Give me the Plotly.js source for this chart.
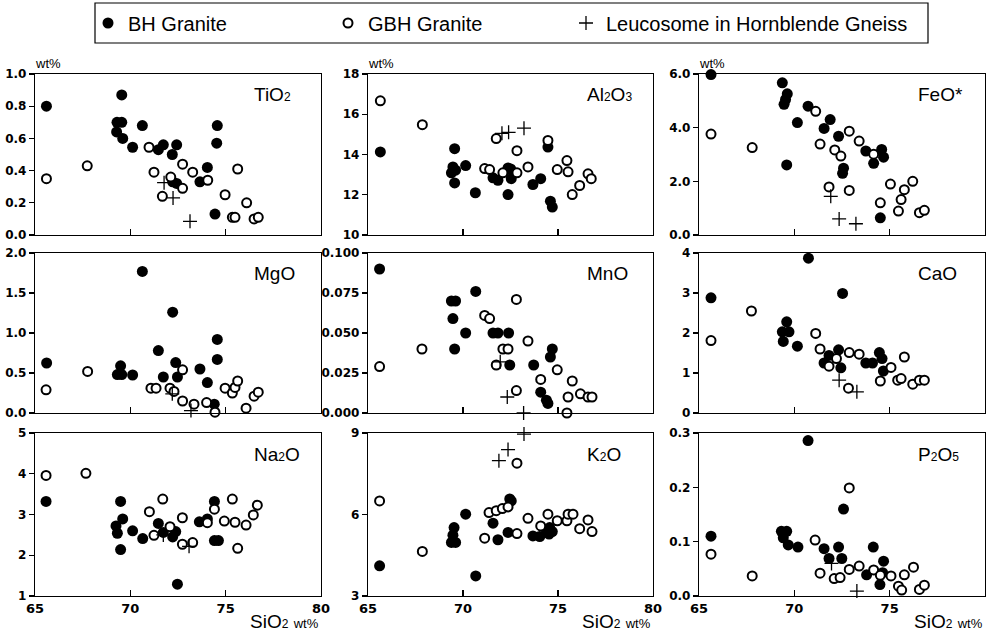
<!DOCTYPE html>
<html><head><meta charset="utf-8">
<script src="https://cdn.plot.ly/plotly-3.0.1.min.js"></script>
<style>html,body{margin:0;padding:0;background:#fff;}#chart{width:994px;height:637px;}</style>
</head><body><div id="chart"></div>
<script>
// ---- Data (SiO2 wt% on x, oxide wt% on y) ----
const seriesNames = ['BH Granite', 'GBH Granite', 'Leucosome in Hornblende Gneiss'];
const panelLabels = [['Ti', 'O', '2'], ['Al', '2', 'O', '3'], ['FeO*'], ['MgO'], ['MnO'], ['CaO'], ['Na', '2', 'O'], ['K', '2', 'O'], ['P', '2', 'O', '5']];
const xTickVals = [65, 70, 75, 80];
const xTickText = ['65', '70', '75', '80'];

const tio2_yticks = [0, 0.2, 0.4, 0.6, 0.8, 1.0];
const tio2_ytext = ['0.0', '0.2', '0.4', '0.6', '0.8', '1.0'];
const al2o3_yticks = [10, 12, 14, 16, 18];
const al2o3_ytext = ['10', '12', '14', '16', '18'];
const feo_yticks = [0, 2, 4, 6];
const feo_ytext = ['0.0', '2.0', '4.0', '6.0'];
const mgo_yticks = [0, 0.5, 1.0, 1.5, 2.0];
const mgo_ytext = ['0.0', '0.5', '1.0', '1.5', '2.0'];
const mno_yticks = [0, 0.025, 0.05, 0.075, 0.1];
const mno_ytext = ['0.000', '0.025', '0.050', '0.075', '0.100'];
const cao_yticks = [0, 1, 2, 3, 4];
const cao_ytext = ['0', '1', '2', '3', '4'];
const na2o_yticks = [1, 2, 3, 4, 5];
const na2o_ytext = ['1', '2', '3', '4', '5'];
const k2o_yticks = [3, 6, 9];
const k2o_ytext = ['3', '6', '9'];
const p2o5_yticks = [0, 0.1, 0.2, 0.3];
const p2o5_ytext = ['0.0', '0.1', '0.2', '0.3'];

const tio2_bh_x = [65.6, 69.55, 69.3, 69.55, 69.28, 69.6, 70.63, 70.12, 71.47, 71.73, 72.2, 72.43, 72.22, 72.43, 73.65, 74.04, 74.56, 74.53, 74.44];
const tio2_bh_y = [0.80, 0.87, 0.70, 0.70, 0.64, 0.60, 0.68, 0.545, 0.53, 0.56, 0.50, 0.56, 0.33, 0.32, 0.33, 0.42, 0.68, 0.57, 0.13];
const tio2_gbh_x = [65.6, 67.74, 70.98, 71.24, 71.68, 72.12, 72.74, 72.74, 73.27, 74.06, 74.97, 75.63, 75.35, 75.49, 76.1, 76.49, 76.71];
const tio2_gbh_y = [0.35, 0.43, 0.545, 0.39, 0.24, 0.36, 0.29, 0.44, 0.39, 0.34, 0.25, 0.41, 0.11, 0.11, 0.20, 0.10, 0.11];
const tio2_leu_x = [71.77, 72.24, 73.13];
const tio2_leu_y = [0.325, 0.23, 0.085];

const al2o3_bh_x = [65.65, 69.56, 69.47, 69.61, 69.39, 69.56, 70.14, 70.65, 71.58, 71.84, 72.37, 72.51, 72.54, 72.37, 73.68, 74.09, 74.47, 74.6, 74.7];
const al2o3_bh_y = [14.13, 14.29, 13.38, 13.22, 13.09, 12.59, 13.45, 12.1, 12.84, 12.72, 13.33, 13.28, 12.8, 12.01, 12.51, 12.8, 14.37, 11.68, 11.39];
const al2o3_gbh_x = [65.65, 67.86, 71.14, 71.4, 71.75, 72.1, 72.84, 72.84, 73.42, 74.47, 74.96, 75.47, 75.53, 75.75, 76.14, 76.58, 76.75];
const al2o3_gbh_y = [16.67, 15.48, 13.3, 13.25, 14.79, 13.09, 14.19, 13.09, 13.38, 14.7, 13.25, 13.7, 13.14, 12.01, 12.46, 13.04, 12.8];
const al2o3_leu_x = [72.05, 72.4, 73.21];
const al2o3_leu_y = [15.05, 15.1, 15.31];

const feo_bh_x = [65.63, 69.37, 69.63, 69.54, 69.46, 69.6, 70.16, 70.72, 71.88, 71.56, 72.32, 72.58, 72.53, 73.75, 74.16, 74.58, 74.68, 74.51];
const feo_bh_y = [5.98, 5.67, 5.26, 5.05, 4.87, 2.61, 4.19, 4.8, 4.3, 3.97, 3.68, 2.49, 2.3, 3.13, 2.67, 3.19, 2.9, 0.64];
const feo_gbh_x = [65.63, 67.79, 71.12, 71.35, 72.12, 72.44, 72.88, 73.4, 74.16, 71.82, 72.88, 74.51, 75.04, 75.46, 75.6, 75.77, 76.21, 76.56, 76.82];
const feo_gbh_y = [3.76, 3.26, 4.61, 3.39, 3.17, 2.94, 3.87, 3.5, 3.01, 1.79, 1.66, 1.2, 1.9, 0.89, 1.32, 1.69, 2.0, 0.83, 0.92];
const feo_leu_x = [71.91, 72.35, 73.23];
const feo_leu_y = [1.44, 0.6, 0.42];

const mgo_bh_x = [65.61, 70.63, 72.22, 69.49, 69.32, 69.55, 70.12, 71.47, 71.73, 72.38, 72.47, 73.65, 74.04, 74.56, 74.56, 74.4];
const mgo_bh_y = [0.625, 1.77, 1.26, 0.59, 0.48, 0.48, 0.475, 0.78, 0.45, 0.63, 0.45, 0.55, 0.38, 0.92, 0.67, 0.11];
const mgo_gbh_x = [65.58, 67.76, 71.08, 71.35, 72.08, 72.29, 72.74, 72.74, 73.34, 74.0, 74.44, 74.97, 75.35, 75.49, 75.63, 76.07, 76.49, 76.71];
const mgo_gbh_y = [0.29, 0.52, 0.31, 0.31, 0.31, 0.27, 0.54, 0.15, 0.11, 0.13, 0.01, 0.31, 0.25, 0.32, 0.40, 0.06, 0.21, 0.26];
const mgo_leu_x = [72.2, 73.18];
const mgo_leu_y = [0.24, 0.03];

const mno_bh_x = [65.61, 69.39, 69.61, 69.47, 69.56, 70.14, 70.67, 71.58, 71.84, 72.4, 72.46, 73.72, 74.09, 74.39, 74.47, 74.7, 74.6];
const mno_bh_y = [0.090, 0.070, 0.070, 0.059, 0.040, 0.050, 0.076, 0.050, 0.050, 0.050, 0.030, 0.030, 0.013, 0.008, 0.006, 0.040, 0.035];
const mno_gbh_x = [65.61, 67.84, 71.14, 71.4, 71.75, 72.1, 72.37, 72.81, 72.81, 73.42, 74.09, 74.96, 75.53, 75.75, 76.18, 76.58, 76.79, 75.47];
const mno_gbh_y = [0.029, 0.040, 0.061, 0.059, 0.030, 0.040, 0.040, 0.071, 0.014, 0.045, 0.021, 0.027, 0.010, 0.020, 0.012, 0.010, 0.010, 0.000];
const mno_leu_x = [71.96, 72.33, 73.19];
const mno_leu_y = [0.032, 0.010, 0.000];

const cao_bh_x = [65.63, 70.74, 72.53, 69.6, 69.37, 69.72, 69.42, 70.16, 71.56, 71.82, 72.32, 72.44, 73.75, 74.1, 74.46, 74.6, 74.67];
const cao_bh_y = [2.88, 3.87, 2.99, 2.28, 2.03, 2.03, 1.79, 1.67, 1.25, 1.44, 1.58, 1.13, 1.25, 1.25, 1.51, 1.36, 1.05];
const cao_gbh_x = [65.63, 67.75, 71.12, 71.35, 71.82, 72.21, 72.88, 73.4, 74.51, 75.07, 75.42, 75.6, 75.77, 76.21, 76.56, 76.82, 72.84];
const cao_gbh_y = [1.81, 2.55, 1.99, 1.6, 1.17, 1.36, 1.51, 1.47, 0.8, 1.14, 0.82, 0.86, 1.4, 0.72, 0.82, 0.82, 0.62];
const cao_leu_x = [72.35, 73.28];
const cao_leu_y = [0.82, 0.53];

const na2o_bh_x = [65.58, 69.49, 69.6, 69.25, 69.32, 69.49, 70.12, 70.65, 71.47, 71.73, 72.22, 72.38, 72.47, 73.62, 74.04, 74.41, 74.41, 74.62];
const na2o_bh_y = [3.32, 3.32, 2.89, 2.72, 2.54, 2.14, 2.6, 2.41, 2.78, 2.56, 2.45, 2.58, 1.29, 2.82, 2.89, 3.32, 2.36, 2.36];
const na2o_gbh_x = [65.58, 67.67, 71.0, 71.24, 71.7, 72.08, 72.73, 72.73, 73.27, 74.04, 74.41, 74.93, 75.35, 75.49, 75.63, 76.07, 76.45, 76.66];
const na2o_gbh_y = [3.96, 4.01, 3.07, 2.49, 3.38, 2.7, 2.92, 2.27, 2.31, 2.8, 3.13, 2.84, 3.38, 2.81, 2.17, 2.74, 2.99, 3.23];
const na2o_leu_x = [71.73, 73.08];
const na2o_leu_y = [2.5, 2.22];

const k2o_bh_x = [65.61, 70.67, 70.14, 69.53, 69.47, 69.61, 69.39, 71.58, 71.84, 72.37, 72.46, 72.54, 73.68, 74.04, 74.39, 74.56, 74.7, 74.53];
const k2o_bh_y = [4.11, 3.74, 6.01, 5.52, 5.24, 4.97, 4.97, 5.68, 5.07, 5.34, 6.57, 6.5, 5.21, 5.19, 5.34, 5.52, 5.37, 5.28];
const k2o_gbh_x = [65.61, 67.86, 71.14, 71.37, 71.75, 72.07, 72.37, 72.84, 72.84, 73.42, 74.09, 74.47, 74.96, 75.47, 75.53, 75.79, 76.14, 76.58, 76.79];
const k2o_gbh_y = [6.5, 4.64, 5.13, 6.07, 6.14, 6.22, 6.28, 5.3, 7.89, 5.86, 5.58, 6.01, 5.77, 5.77, 6.01, 6.01, 5.48, 5.8, 5.37];
const k2o_leu_x = [71.89, 72.37, 73.21];
const k2o_leu_y = [7.98, 8.39, 8.96];

const p2o5_bh_x = [65.63, 70.72, 72.58, 69.32, 69.6, 69.42, 69.68, 70.19, 71.56, 71.82, 72.32, 72.49, 73.79, 74.14, 74.68, 74.63, 74.49];
const p2o5_bh_y = [0.11, 0.286, 0.16, 0.119, 0.119, 0.107, 0.094, 0.09, 0.087, 0.069, 0.09, 0.069, 0.039, 0.09, 0.064, 0.043, 0.021];
const p2o5_gbh_x = [65.63, 67.79, 71.09, 71.35, 72.09, 72.4, 72.88, 72.88, 73.4, 74.16, 74.51, 75.07, 75.46, 75.63, 75.77, 76.25, 76.56, 76.82];
const p2o5_gbh_y = [0.077, 0.037, 0.103, 0.042, 0.032, 0.034, 0.199, 0.049, 0.055, 0.048, 0.038, 0.037, 0.018, 0.011, 0.039, 0.053, 0.012, 0.02];
const p2o5_leu_x = [71.95, 73.28];
const p2o5_leu_y = [0.06, 0.009];

// ---- assemble panels ----
const panels = [
  {bh:[tio2_bh_x,tio2_bh_y], gbh:[tio2_gbh_x,tio2_gbh_y], leu:[tio2_leu_x,tio2_leu_y], yt:[tio2_yticks,tio2_ytext]},
  {bh:[al2o3_bh_x,al2o3_bh_y], gbh:[al2o3_gbh_x,al2o3_gbh_y], leu:[al2o3_leu_x,al2o3_leu_y], yt:[al2o3_yticks,al2o3_ytext]},
  {bh:[feo_bh_x,feo_bh_y], gbh:[feo_gbh_x,feo_gbh_y], leu:[feo_leu_x,feo_leu_y], yt:[feo_yticks,feo_ytext]},
  {bh:[mgo_bh_x,mgo_bh_y], gbh:[mgo_gbh_x,mgo_gbh_y], leu:[mgo_leu_x,mgo_leu_y], yt:[mgo_yticks,mgo_ytext]},
  {bh:[mno_bh_x,mno_bh_y], gbh:[mno_gbh_x,mno_gbh_y], leu:[mno_leu_x,mno_leu_y], yt:[mno_yticks,mno_ytext]},
  {bh:[cao_bh_x,cao_bh_y], gbh:[cao_gbh_x,cao_gbh_y], leu:[cao_leu_x,cao_leu_y], yt:[cao_yticks,cao_ytext]},
  {bh:[na2o_bh_x,na2o_bh_y], gbh:[na2o_gbh_x,na2o_gbh_y], leu:[na2o_leu_x,na2o_leu_y], yt:[na2o_yticks,na2o_ytext]},
  {bh:[k2o_bh_x,k2o_bh_y], gbh:[k2o_gbh_x,k2o_gbh_y], leu:[k2o_leu_x,k2o_leu_y], yt:[k2o_yticks,k2o_ytext]},
  {bh:[p2o5_bh_x,p2o5_bh_y], gbh:[p2o5_gbh_x,p2o5_gbh_y], leu:[p2o5_leu_x,p2o5_leu_y], yt:[p2o5_yticks,p2o5_ytext]}
];

const W = 994, H = 637;
const FONT = 'Liberation Sans, Arial, Helvetica, sans-serif';
const TICKFONT = {family: 'DejaVu Sans', size: 12, weight: 700, color: 'black'};
const colPx = [[35, 321], [368, 653], [699, 985]];
const rowPx = [[74, 235], [253, 413], [433, 596]];
const fx = p => p / W;
const fy = p => 1 - p / H;
// chemical formula: digits drawn small on the baseline, as in the reference
const formula = parts => parts.map(s => /^\d+$/.test(s) ? '<span style="font-size:12px">' + s + '</span>' : s).join('');

const styles = [
  {mode:'markers', marker:{symbol:'circle', size:11, color:'black', line:{width:0}}},
  {mode:'markers', marker:{symbol:'circle', size:9, color:'white', line:{width:2, color:'black'}}},
  {mode:'markers', marker:{symbol:'cross-thin', size:10, color:'black', line:{width:1.3, color:'black'}}}
];
const legendIds = ['legend', 'legend2', 'legend3'];

const data = [];
const layout = {
  width: W, height: H,
  margin: {l:0, r:0, t:0, b:0},
  paper_bgcolor: 'white', plot_bgcolor: 'white',
  font: {family: FONT, color: 'black'},
  annotations: [], shapes: []
};

panels.forEach((p, i) => {
  const r = Math.floor(i / 3), c = i % 3;
  const n = i + 1;
  const xa = 'x' + (n === 1 ? '' : n), ya = 'y' + (n === 1 ? '' : n);
  [p.bh, p.gbh, p.leu].forEach((s, k) => {
    data.push(Object.assign({
      type: 'scatter', x: s[0], y: s[1], xaxis: xa, yaxis: ya,
      name: seriesNames[k], legend: legendIds[k], showlegend: i === 0,
      cliponaxis: false, hoverinfo: 'skip'
    }, JSON.parse(JSON.stringify(styles[k]))));
  });
  const yr = [p.yt[0][0], p.yt[0][p.yt[0].length - 1]];
  layout['xaxis' + (n === 1 ? '' : n)] = {
    domain: [fx(colPx[c][0]), fx(colPx[c][1])], anchor: ya, range: [65, 80],
    showline: true, mirror: true, linecolor: 'black', linewidth: 1.2,
    showgrid: false, zeroline: false,
    ticks: 'inside', ticklen: 6, tickwidth: 1.2, tickcolor: 'black',
    tickvals: xTickVals, ticktext: xTickText, showticklabels: r === 2,
    tickfont: Object.assign({}, TICKFONT, {size: 13})
  };
  layout['yaxis' + (n === 1 ? '' : n)] = {
    domain: [fy(rowPx[r][1]), fy(rowPx[r][0])], anchor: xa, range: yr,
    showline: true, mirror: true, linecolor: 'black', linewidth: 1.2,
    showgrid: false, zeroline: false,
    ticks: 'outside', ticklen: 5, tickwidth: 1.2, tickcolor: 'black',
    tickvals: p.yt[0], ticktext: p.yt[1],
    tickfont: TICKFONT
  };
  layout.annotations.push({
    xref: 'paper', yref: 'paper', x: fx(colPx[c][0] + 217), y: fy(rowPx[r][0] + 21),
    xanchor: 'left', yanchor: 'middle', showarrow: false,
    text: formula(panelLabels[i]), font: {family: FONT, size: 19, color: 'black'}
  });
  if (r === 0) {
    layout.annotations.push({
      xref: 'paper', yref: 'paper', x: fx(colPx[c][0] - 2), y: fy(64),
      xanchor: 'left', yanchor: 'middle', showarrow: false,
      text: 'wt%', font: {family: FONT, size: 13, color: 'black'}
    });
  }
  if (r === 2) {
    layout.annotations.push({
      xref: 'paper', yref: 'paper', x: fx(colPx[c][1]), y: fy(621),
      xanchor: 'right', yanchor: 'middle', showarrow: false,
      text: 'SiO<span style="font-size:12px">2</span> <span style="font-size:13px">wt%</span>',
      font: {family: FONT, size: 19, color: 'black'}
    });
  }
});

const legendX = [88, 328, 566];
legendIds.forEach((id, k) => {
  layout[id] = {
    x: fx(legendX[k]), y: fy(23), xanchor: 'left', yanchor: 'middle',
    orientation: 'h', bgcolor: 'rgba(0,0,0,0)', borderwidth: 0,
    font: {family: FONT, size: 20, color: 'black'}
  };
});
layout.shapes.push({
  type: 'rect', xref: 'paper', yref: 'paper',
  x0: fx(95), x1: fx(928), y0: fy(43), y1: fy(3),
  line: {color: 'black', width: 1.2}, fillcolor: 'rgba(0,0,0,0)'
});

Plotly.newPlot('chart', data, layout, {displayModeBar: false, staticPlot: true});
</script>
</body></html>
